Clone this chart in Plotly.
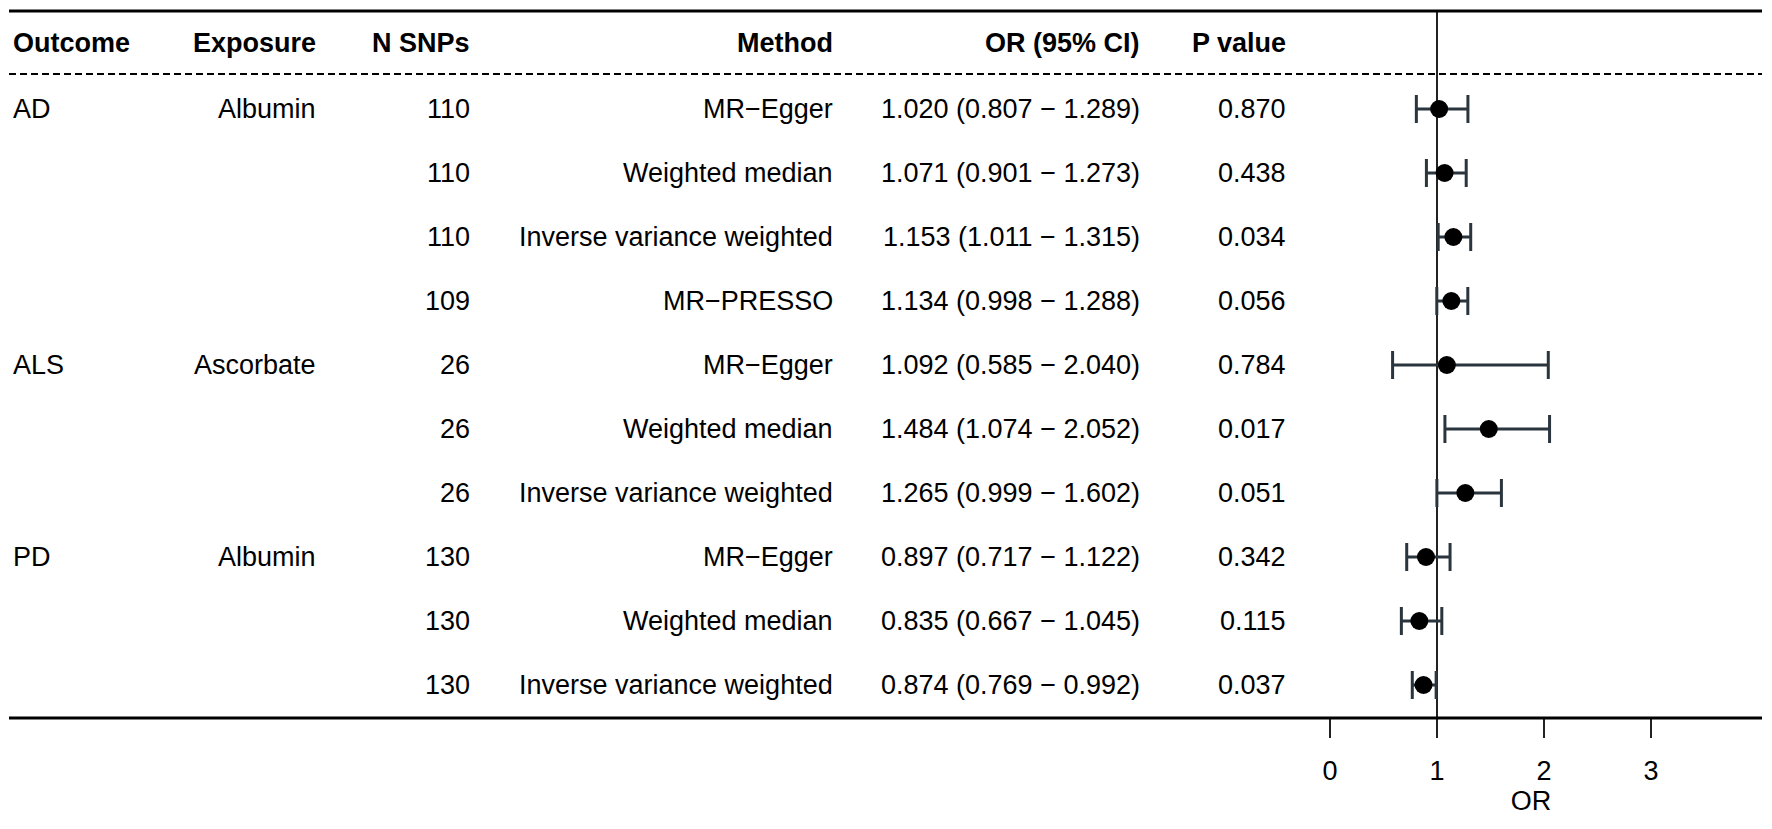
import plotly.graph_objects as go

# Table data
outcomes = ["AD", "", "", "", "ALS", "", "", "PD", "", ""]
exposures = ["Albumin", "", "", "", "Ascorbate", "", "", "Albumin", "", ""]
n_snps = [110, 110, 110, 109, 26, 26, 26, 130, 130, 130]
methods = ["MR\u2212Egger", "Weighted median", "Inverse variance weighted", "MR\u2212PRESSO",
           "MR\u2212Egger", "Weighted median", "Inverse variance weighted",
           "MR\u2212Egger", "Weighted median", "Inverse variance weighted"]
or_vals = [1.020, 1.071, 1.153, 1.134, 1.092, 1.484, 1.265, 0.897, 0.835, 0.874]
ci_low = [0.807, 0.901, 1.011, 0.998, 0.585, 1.074, 0.999, 0.717, 0.667, 0.769]
ci_high = [1.289, 1.273, 1.315, 1.288, 2.040, 2.052, 1.602, 1.122, 1.045, 0.992]
p_vals = ["0.870", "0.438", "0.034", "0.056", "0.784", "0.017", "0.051", "0.342", "0.115", "0.037"]
x_ticks = [0, 1, 2, 3]

W, H = 1772, 829
FONT = "Liberation Sans, Arial, Helvetica, sans-serif"
FS = 27
rows = list(range(len(methods)))

fig = go.Figure()
fig.add_trace(go.Scatter(
    x=or_vals, y=rows, mode="markers",
    marker=dict(color="black", size=18),
    error_x=dict(type="data", symmetric=False,
                 array=[h - o for h, o in zip(ci_high, or_vals)],
                 arrayminus=[o - l for o, l in zip(or_vals, ci_low)],
                 color="#2b353d", thickness=3, width=14),
    showlegend=False, hoverinfo="skip",
))

def px(x):
    return x / W

# header + columns: (header, values, x pixel, anchor)
cols = [
    ("Outcome", outcomes, 11, "left"),
    ("Exposure", exposures, 318, "right"),
    ("N SNPs", [str(v) for v in n_snps], 472, "right"),
    ("Method", methods, 835, "right"),
    ("OR (95% CI)", ["%.3f (%.3f \u2212 %.3f)" % (o, l, h) for o, l, h in zip(or_vals, ci_low, ci_high)], 1142, "right"),
    ("P value", p_vals, 1288, "right"),
]
header_y = (718 - 43) / 718
for head, vals, xp, anchor in cols:
    fig.add_annotation(x=px(xp), y=header_y, xref="paper", yref="paper", text="<b>%s</b>" % head,
                       xanchor=anchor, yanchor="middle", showarrow=False,
                       font=dict(family=FONT, size=FS, color="black"))
    for i, v in enumerate(vals):
        if v:
            fig.add_annotation(x=px(xp), y=i, xref="paper", yref="y", text=v,
                               xanchor=anchor, yanchor="middle", showarrow=False,
                               font=dict(family=FONT, size=FS, color="black"))

# rules
fig.add_shape(type="line", xref="paper", yref="paper", x0=px(9), x1=px(1762),
              y0=(718 - 11) / 718, y1=(718 - 11) / 718, line=dict(color="black", width=3))
fig.add_shape(type="line", xref="paper", yref="paper", x0=px(9), x1=px(1762),
              y0=(718 - 74) / 718, y1=(718 - 74) / 718, line=dict(color="black", width=2, dash="7px,4px"))
fig.add_shape(type="line", xref="paper", yref="paper", x0=px(9), x1=px(1762),
              y0=0, y1=0, line=dict(color="black", width=3))
fig.add_shape(type="line", xref="x", yref="paper", x0=1, x1=1,
              y0=0, y1=(718 - 11) / 718, line=dict(color="#222222", width=2), layer="below")

x0_dom = 1290 / W
fig.update_layout(
    width=W, height=H,
    margin=dict(l=0, r=0, t=0, b=111),
    plot_bgcolor="white", paper_bgcolor="white",
    font=dict(family=FONT, size=FS, color="black"),
    xaxis=dict(domain=[x0_dom, 1], range=[(1290 - 1330) / 107, (1772 - 1330) / 107],
               tickvals=x_ticks, ticks="outside", ticklen=19, tickwidth=2, tickcolor="#222222",
               ticklabelstandoff=10, showgrid=False, zeroline=False, showline=False,
               tickfont=dict(family=FONT, size=FS, color="black"),
               title=dict(text="OR", standoff=5, font=dict(family=FONT, size=FS, color="black"))),
    yaxis=dict(range=[(718 - 109) / 64, -109 / 64], visible=False, showgrid=False, zeroline=False),
)

# drop the default body margin so the figure sits at the page origin
fig.write_html("out.html", config={"displayModeBar": False},
               post_script="document.body.style.margin='0px';")
